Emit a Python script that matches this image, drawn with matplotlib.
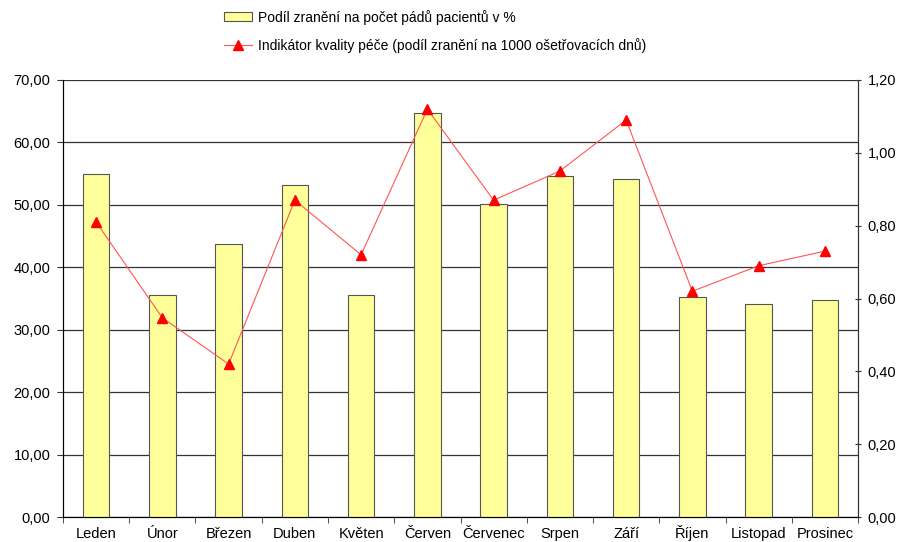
import numpy as np
from matplotlib import pyplot as plt
from matplotlib.ticker import FuncFormatter, MultipleLocator

plt.rcParams['font.family'] = ['Liberation Sans', 'DejaVu Sans']
plt.rcParams['font.size'] = 10.5

# měsíce
months = ['Leden', 'Únor', 'Březen', 'Duben', 'Květen', 'Červen',
          'Červenec', 'Srpen', 'Září', 'Říjen', 'Listopad', 'Prosinec']
# podíl zranění na počet pádů pacientů v %
injury_share = [55.0, 35.6, 43.7, 53.2, 35.6, 64.7, 50.2, 54.6, 54.2, 35.3, 34.1, 34.8]
# indikátor kvality péče
quality_index = [0.81, 0.547, 0.42, 0.87, 0.72, 1.12, 0.87, 0.95, 1.09, 0.62, 0.69, 0.73]

bar_label = 'Podíl zranění na počet pádů pacientů v %'
line_label = 'Indikátor kvality péče (podíl zranění na 1000 ošetřovacích dnů)'


def comma_fmt(v, pos):
    return f'{v:.2f}'.replace('.', ',')


fig = plt.figure(figsize=(9.01, 5.42), dpi=100)
ax = fig.add_axes([0.0699, 0.0461, 0.8824, 0.8063])
x = np.arange(len(months))

bars = ax.bar(x, injury_share, width=0.4, color='#ffff99', edgecolor='#555555',
              linewidth=0.8, label=bar_label, zorder=3)
ax.set_xlim(-0.5, len(months) - 0.5)
ax.set_ylim(0, 70)
ax.yaxis.set_major_locator(MultipleLocator(10))
ax.yaxis.set_major_formatter(FuncFormatter(comma_fmt))
ax.grid(axis='y', color='#333333', linewidth=0.9, zorder=0)
ax.set_xticks(x)
ax.set_xticklabels(months, va='baseline')
ax.set_xticks(np.arange(-0.5, len(months)), minor=True)
ax.tick_params(axis='x', which='major', length=0, pad=15)
ax.tick_params(axis='x', which='minor', length=4, direction='out', color='#333333')
ax.tick_params(axis='y', length=4, color='#333333', pad=5)
ax.spines['top'].set_visible(False)
for side in ['left', 'bottom', 'right']:
    ax.spines[side].set_color('#333333')

ax2 = ax.twinx()
line, = ax2.plot(x, quality_index, color='#ff5555', linewidth=0.8,
                 marker='^', markersize=6.5, markerfacecolor='red', markeredgecolor='red',
                 label=line_label, zorder=4)
ax2.set_ylim(0, 1.2)
ax2.yaxis.set_major_locator(MultipleLocator(0.2))
ax2.yaxis.set_major_formatter(FuncFormatter(comma_fmt))
ax2.tick_params(axis='y', length=4, direction='inout', color='#333333', pad=5)
ax2.spines['top'].set_visible(False)
ax2.spines['right'].set_color('#333333')

fig.legend([bars, line], [bar_label, line_label], loc='upper left',
           bbox_to_anchor=(0.235, 1.005), frameon=False, fontsize=10,
           handlelength=2.0, handleheight=0.6, handletextpad=0.4, labelspacing=0.95)

fig.savefig('out.png', dpi=100)
